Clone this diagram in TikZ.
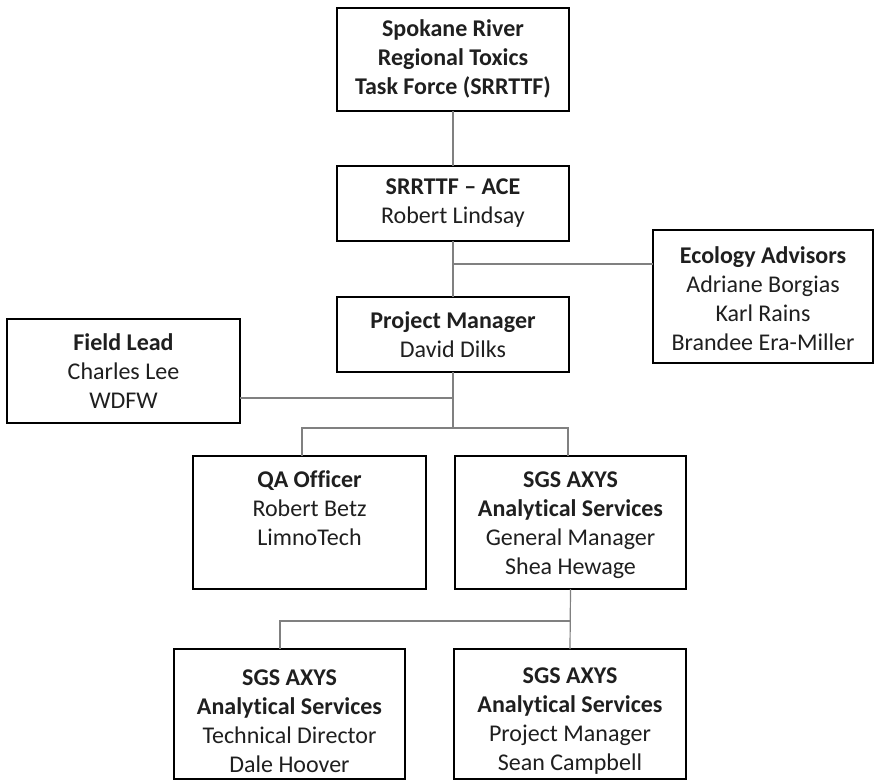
\documentclass[tikz,border=0pt]{standalone}
\usepackage{fontspec}
\setmainfont[Ligatures={NoCommon}]{Carlito}
\begin{document}
\begin{tikzpicture}[x=1pt,y=-1pt,
  box/.style={draw=black, line width=1.5pt, inner sep=0pt, outer sep=0pt, fill=white},
  txt/.style={align=center, font=\fontsize{24}{29}\selectfont, text=black!88, inner sep=0pt},
  conn/.style={draw=black!50, line width=1.2pt}]
\useasboundingbox (0,0) rectangle (875,780);
% boxes
\node[box, minimum width=232pt, minimum height=103pt] (top)   at (453,59.5) {};
\node[box, minimum width=232pt, minimum height=75pt]  (ace)   at (453,203.5) {};
\node[box, minimum width=220pt, minimum height=133pt] (eco)   at (763,296.5) {};
\node[box, minimum width=232pt, minimum height=75pt]  (pm)    at (453,334.5) {};
\node[box, minimum width=233pt, minimum height=104pt] (field) at (123.5,371) {};
\node[box, minimum width=233pt, minimum height=133pt] (qa)    at (309.5,522.5) {};
\node[box, minimum width=231pt, minimum height=133pt] (gm)    at (570.5,522.5) {};
\node[box, minimum width=231pt, minimum height=130pt] (td)    at (289.5,714) {};
\node[box, minimum width=232pt, minimum height=130pt] (sc)    at (570,714) {};
% texts
\node[txt] (topT) at (453,59) {\textbf{Spokane River}\\\textbf{Regional Toxics}\\\textbf{Task Force (SRRTTF)}};
\node[txt] (aceT) at (453,203.5) {\textbf{SRRTTF – ACE}\\Robert Lindsay};
\node[txt] (ecoT) at (763,299) {\textbf{Ecology Advisors}\\Adriane Borgias\\Karl Rains\\Brandee Era-Miller};
\node[txt] (pmT) at (453,334.5) {\textbf{Project Manager}\\David Dilks};
\node[txt] (fieldT) at (123.5,371) {\textbf{Field Lead}\\Charles Lee\\WDFW};
\node[txt] (qaT) at (309.5,508) {\textbf{QA Officer}\\Robert Betz\\LimnoTech};
\node[txt] (gmT) at (570.5,525) {\textbf{SGS AXYS}\\\textbf{Analytical Services}\\General Manager\\Shea Hewage};
\node[txt] (tdT) at (289.5,721) {\textbf{SGS AXYS}\\\textbf{Analytical Services}\\Technical Director\\Dale Hoover};
\node[txt] (scT) at (570,721) {\textbf{SGS AXYS}\\\textbf{Analytical Services}\\Project Manager\\Sean Campbell};
% junction coordinates
\coordinate (j1) at (453,264);
\coordinate (j2) at (453,398);
\coordinate (j3) at (453,428);
\coordinate (b1) at (302,428);
\coordinate (b2) at (568,428);
\coordinate (c1) at (280,621);
% connectors
\draw[conn] (top.south) -- (ace.north);
\draw[conn] (ace.south) -- (pm.north);
\draw[conn] (j1) -- (j1 -| eco.west);
\draw[conn] (pm.south) -- (j3);
\draw[conn] (j2 -| field.east) -- (j2);
\draw[conn] (qa.north -| b1) -- (b1) -- (b2) -- (gm.north -| b2);
\draw[conn] (gm.south) -- (sc.north);
\draw[conn] (c1 -| gm.south) -- (c1) -- (c1 |- td.north);
\end{tikzpicture}
\end{document}
